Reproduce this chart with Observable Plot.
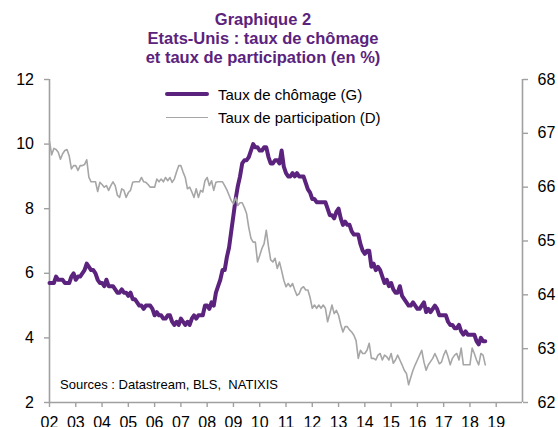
<!DOCTYPE html>
<html>
<head>
<meta charset="utf-8">
<script src="https://cdn.jsdelivr.net/npm/d3@7"></script>
<script src="https://cdn.jsdelivr.net/npm/@observablehq/plot@0.6"></script>
<style>
  body { margin: 0; background: #fff; font-family: "Liberation Sans", Arial, sans-serif; }
  #wrap { position: relative; width: 558px; height: 427px; overflow: hidden; background: #fff; }
  #title { width: 526px; height: 66px; box-sizing: border-box; padding-top: 9.6px; text-align: center;
           color: #5b237d; font-weight: bold; font-size: 16.5px; line-height: 19.3px; }
  .leg { position: absolute; display: flex; align-items: center; height: 20px; font-size: 15px; color: #000; white-space: nowrap; }
  .sw { display: inline-block; }
  #source { position: absolute; left: 60px; top: 377px; font-size: 13px; line-height: 16px; color: #000; white-space: nowrap; }
</style>
</head>
<body>
<div id="wrap">
  <div id="title">Graphique 2<br>Etats-Unis : taux de chômage<br>et taux de participation (en %)</div>
  <div id="chart"></div>
  <div class="leg" style="left:165px; top:84px;"><span class="sw" style="width:44px;height:4px;background:#5b237d;border-radius:2px;margin-right:9px;"></span><span id="leg1"></span></div>
  <div class="leg" style="left:166px; top:107.3px;"><span class="sw" style="width:42px;height:1.6px;background:#a6a6a6;margin-right:10px;"></span><span id="leg2"></span></div>
  <div id="source"></div>
</div>
<script>
// ---- Data (monthly, Jan 2002 – Aug 2018) ----
const startYear = 2002;
const seriesNames = ["Taux de chômage (G)", "Taux de participation (D)"];
const sourceText = "Sources : Datastream, BLS,\u00a0 NATIXIS";

// Unemployment rate (%), left axis
const unemployment = [
  5.7, 5.7, 5.7, 5.9, 5.8, 5.8, 5.8, 5.7, 5.7, 5.7, 5.9, 6.0,   // 2002
  5.8, 5.9, 5.9, 6.0, 6.1, 6.3, 6.2, 6.1, 6.1, 6.0, 5.8, 5.7,   // 2003
  5.7, 5.6, 5.8, 5.6, 5.6, 5.6, 5.5, 5.4, 5.4, 5.5, 5.4, 5.4,   // 2004
  5.3, 5.4, 5.2, 5.2, 5.1, 5.0, 5.0, 4.9, 5.0, 5.0, 5.0, 4.9,   // 2005
  4.7, 4.8, 4.7, 4.7, 4.6, 4.6, 4.7, 4.7, 4.5, 4.4, 4.5, 4.4,   // 2006
  4.6, 4.5, 4.4, 4.5, 4.4, 4.6, 4.7, 4.6, 4.7, 4.7, 4.7, 5.0,   // 2007
  5.0, 4.9, 5.1, 5.0, 5.4, 5.6, 5.8, 6.1, 6.1, 6.5, 6.8, 7.3,   // 2008
  7.8, 8.3, 8.7, 9.0, 9.4, 9.5, 9.5, 9.6, 9.8, 10.0, 9.9, 9.9,  // 2009
  9.8, 9.8, 9.9, 9.9, 9.6, 9.4, 9.4, 9.5, 9.5, 9.4, 9.8, 9.3,   // 2010
  9.1, 9.0, 9.0, 9.1, 9.0, 9.1, 9.0, 9.0, 9.0, 8.8, 8.6, 8.5,   // 2011
  8.3, 8.3, 8.2, 8.2, 8.2, 8.2, 8.2, 8.0, 7.8, 7.8, 7.7, 7.9,   // 2012
  8.0, 7.7, 7.5, 7.6, 7.5, 7.5, 7.3, 7.2, 7.2, 7.2, 6.9, 6.7,   // 2013
  6.6, 6.7, 6.7, 6.2, 6.3, 6.1, 6.2, 6.1, 5.9, 5.7, 5.8, 5.6,   // 2014
  5.7, 5.5, 5.4, 5.4, 5.6, 5.3, 5.2, 5.1, 5.0, 5.0, 5.1, 5.0,   // 2015
  4.9, 4.9, 5.0, 5.1, 4.8, 4.9, 4.8, 4.9, 5.0, 4.9, 4.7, 4.7,   // 2016
  4.7, 4.7, 4.5, 4.4, 4.4, 4.3, 4.3, 4.4, 4.2, 4.1, 4.2, 4.1,   // 2017
  4.1, 4.1, 4.1, 3.9, 3.8, 4.0, 3.9, 3.9                        // 2018
];

// Participation rate (%), right axis
const participation = [
  66.85, 66.60, 66.72, 66.70, 66.65, 66.52, 66.62, 66.68, 66.70, 66.58, 66.34, 66.40, // 2002
  66.40, 66.31, 66.40, 66.40, 66.42, 66.51, 66.18, 66.10, 66.10, 66.10, 65.92, 66.09, // 2003
  66.05, 66.00, 66.03, 65.94, 66.03, 66.10, 66.03, 65.85, 65.81, 65.97, 65.94, 65.81, // 2004
  65.90, 65.94, 66.09, 66.10, 66.10, 66.10, 66.18, 66.10, 66.09, 66.05, 66.00, 66.00, // 2005
  66.00, 66.15, 66.10, 66.15, 66.10, 66.18, 66.12, 66.18, 66.09, 66.15, 66.28, 66.40, // 2006
  66.40, 66.28, 66.18, 65.97, 66.00, 65.91, 65.81, 65.97, 65.81, 65.94, 65.91, 66.12, // 2007
  66.18, 66.03, 66.12, 65.94, 66.09, 66.10, 66.10, 66.10, 66.03, 65.95, 65.85, 65.75, // 2008
  65.69, 65.81, 65.66, 65.71, 65.71, 65.62, 65.51, 65.25, 65.05, 64.98, 64.98, 64.61, // 2009
  64.73, 64.86, 64.95, 65.20, 64.90, 64.65, 64.61, 64.68, 64.49, 64.61, 64.45, 64.27, // 2010
  64.15, 64.21, 64.15, 64.21, 64.09, 63.99, 64.02, 64.12, 64.15, 64.09, 64.09, 63.95, // 2011
  63.75, 63.81, 63.75, 63.81, 63.75, 63.81, 63.75, 63.50, 63.65, 63.81, 63.65, 63.71, // 2012
  63.62, 63.45, 63.31, 63.41, 63.41, 63.35, 63.31, 63.25, 63.15, 62.82, 62.97, 62.91, // 2013
  62.91, 62.97, 63.10, 62.82, 62.82, 62.79, 62.88, 62.91, 62.79, 62.88, 62.85, 62.79, // 2014
  62.91, 62.73, 62.79, 62.88, 62.79, 62.70, 62.60, 62.54, 62.33, 62.47, 62.60, 62.70, // 2015
  62.79, 62.88, 62.97, 62.75, 62.60, 62.70, 62.76, 62.82, 62.91, 62.82, 62.72, 62.75, // 2016
  62.88, 62.97, 62.85, 62.70, 62.82, 62.88, 62.91, 62.79, 63.01, 62.70, 62.70, 62.70, // 2017
  62.70, 63.01, 62.91, 62.79, 62.70, 62.91, 62.88, 62.70                              // 2018
];

// Axis ticks
const xTicks = d3.range(2002, 2020);          // labels 02 ... 19
const xDomain = [2002, 2020];
const leftTicks = [2, 4, 6, 8, 10, 12];
const leftDomain = [2, 12];
const rightTicks = [62, 63, 64, 65, 66, 67, 68];
const rightDomain = [62, 68];

// ---- Build ----
const purple = "#5b237d";
const grey = "#a6a6a6";
const axisColor = "#a0a0a0";
const font = '"Liberation Sans", Arial, sans-serif';

const toLeft = p => leftDomain[0] + (p - rightDomain[0]) * (leftDomain[1] - leftDomain[0]) / (rightDomain[1] - rightDomain[0]);
const fromLeft = v => rightDomain[0] + (v - leftDomain[0]) * (rightDomain[1] - rightDomain[0]) / (leftDomain[1] - leftDomain[0]);

const unempRows = unemployment.map((v, i) => ({date: startYear + i / 12, value: v}));
const partRows = participation.map((v, i) => ({date: startYear + i / 12, value: v}));

document.getElementById("leg1").textContent = seriesNames[0];
document.getElementById("leg2").textContent = seriesNames[1];
document.getElementById("source").textContent = sourceText;

const chart = Plot.plot({
  width: 558,
  height: 380,
  marginTop: 13,
  marginBottom: 44,
  marginLeft: 49,
  marginRight: 36,
  style: {fontFamily: font, fontSize: "16px", color: "#000", background: "transparent", overflow: "visible"},
  x: {domain: xDomain},
  y: {domain: leftDomain},
  marks: [
    Plot.ruleX([xDomain[0], xDomain[1]], {stroke: axisColor, strokeWidth: 1.6}),
    Plot.ruleY([leftDomain[0]], {stroke: axisColor, strokeWidth: 1.6}),
    Plot.axisY({ticks: leftTicks, anchor: "left", tickSize: 5, tickPadding: 10.5, stroke: axisColor, strokeWidth: 1.4, fill: "#000", fontSize: 16, label: null}),
    Plot.axisY({ticks: rightTicks.map(toLeft), anchor: "right", tickSize: 5, tickPadding: 10, stroke: axisColor, strokeWidth: 1.4, fill: "#000", fontSize: 16, label: null,
                tickFormat: d => String(Math.round(fromLeft(d)))}),
    Plot.axisX({ticks: xTicks, anchor: "bottom", tickSize: 5, tickPadding: 9, stroke: axisColor, strokeWidth: 1.4, fill: "#000", fontSize: 16, label: null,
                tickFormat: d => String(d % 100).padStart(2, "0")}),
    Plot.line(unempRows, {x: "date", y: "value", stroke: purple, strokeWidth: 4, strokeLinejoin: "round", strokeLinecap: "round"}),
    Plot.line(partRows, {x: "date", y: d => toLeft(d.value), stroke: grey, strokeWidth: 1.6, strokeLinejoin: "round"})
  ]
});
document.getElementById("chart").appendChild(chart);
</script>
</body>
</html>
